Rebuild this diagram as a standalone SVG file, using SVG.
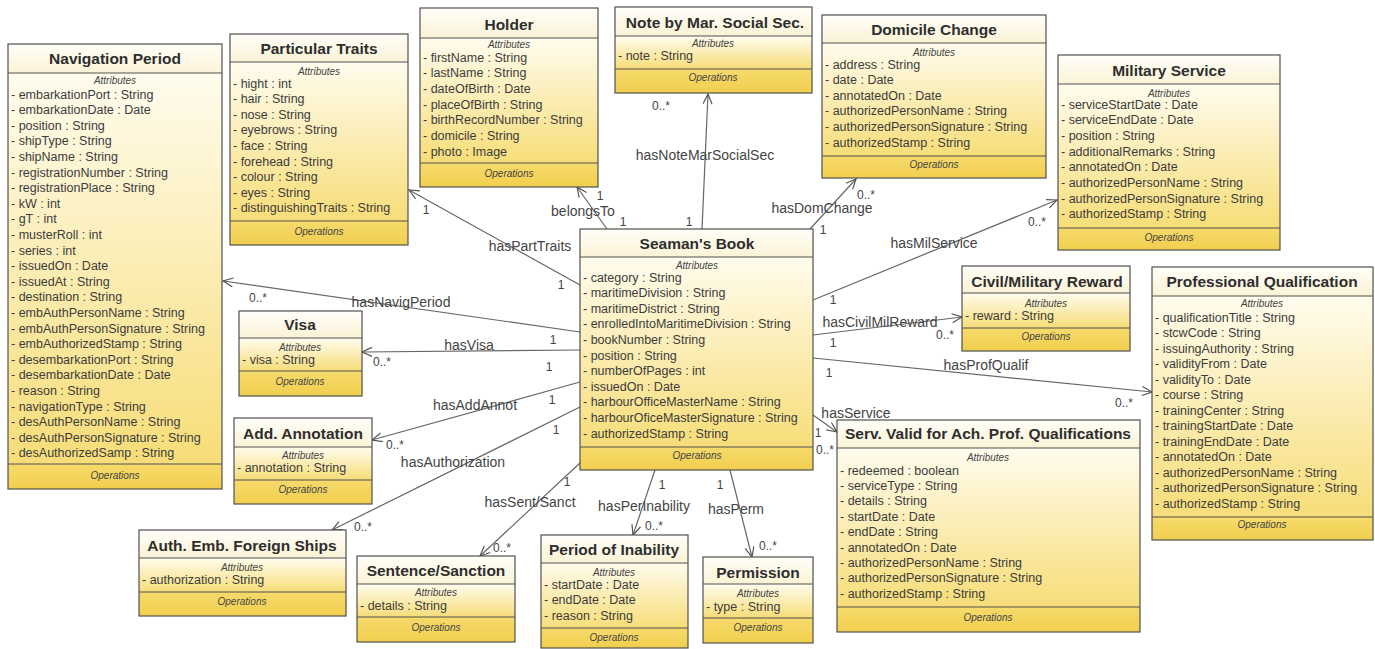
<svg xmlns="http://www.w3.org/2000/svg" width="1375" height="649" viewBox="0 0 1375 649">
<defs>
<linearGradient id="gT" x1="0" y1="0" x2="0" y2="1"><stop offset="0" stop-color="#fffef9"/><stop offset="1" stop-color="#fbf3d6"/></linearGradient>
<linearGradient id="gA" x1="0" y1="0" x2="0" y2="1"><stop offset="0" stop-color="#fffcee"/><stop offset="1" stop-color="#f7dd78"/></linearGradient>
<linearGradient id="gO" x1="0" y1="0" x2="0" y2="1"><stop offset="0" stop-color="#f6da6c"/><stop offset="1" stop-color="#f1cf4e"/></linearGradient>
<marker id="arr" markerUnits="userSpaceOnUse" markerWidth="14" markerHeight="12" refX="11" refY="5" orient="auto"><path d="M1,0.5 L11,5 L1,9.5" fill="none" stroke="#555" stroke-width="1.2"/></marker>
</defs>
<style>
.fr{fill:none;stroke:#505050;stroke-width:1.2}
.dv{stroke:#505050;stroke-width:1}
.t{font-family:"Liberation Sans",Arial,sans-serif;font-weight:bold;font-size:15.5px;fill:#2e2e2e;text-anchor:middle}
.a{font-family:"Liberation Sans",Arial,sans-serif;font-size:12.5px;fill:#3c3c3c}
.h{font-family:"Liberation Sans",Arial,sans-serif;font-style:italic;font-size:10px;fill:#444;text-anchor:middle}
.c{stroke:#666;stroke-width:1.2;fill:none;marker-end:url(#arr)}
.l{font-family:"Liberation Sans",Arial,sans-serif;font-size:14px;fill:#444;text-anchor:middle}
.m{font-family:"Liberation Sans",Arial,sans-serif;font-size:12px;fill:#444;text-anchor:middle}
</style>
<rect width="1375" height="649" fill="#fff"/>

<g id="connectors">
<line class="c" x1="580" y1="285" x2="409" y2="190"/>
<line class="c" x1="607" y1="229" x2="577" y2="187"/>
<line class="c" x1="702" y1="229" x2="708" y2="94"/>
<line class="c" x1="810" y1="229" x2="856" y2="179"/>
<line class="c" x1="813" y1="300" x2="1057" y2="200"/>
<line class="c" x1="813" y1="335" x2="962" y2="317"/>
<line class="c" x1="813" y1="358" x2="1152" y2="392"/>
<line class="c" x1="813" y1="415" x2="837" y2="432"/>
<line class="c" x1="580" y1="332" x2="223" y2="281"/>
<line class="c" x1="580" y1="350" x2="362" y2="352"/>
<line class="c" x1="580" y1="382" x2="372" y2="440"/>
<line class="c" x1="580" y1="407" x2="332" y2="530"/>
<line class="c" x1="580" y1="463" x2="480" y2="556"/>
<line class="c" x1="655" y1="470" x2="633" y2="535"/>
<line class="c" x1="730" y1="470" x2="752" y2="557"/>
<text class="l" x="530" y="251">hasPartTraits</text>
<text class="l" x="583" y="216">belongsTo</text>
<text class="l" x="705" y="160">hasNoteMarSocialSec</text>
<text class="l" x="822" y="213">hasDomChange</text>
<text class="l" x="934" y="248">hasMilService</text>
<text class="l" x="880" y="327">hasCivilMilReward</text>
<text class="l" x="986" y="370">hasProfQualif</text>
<text class="l" x="856" y="418">hasService</text>
<text class="l" x="401" y="307">hasNavigPeriod</text>
<text class="l" x="469" y="350">hasVisa</text>
<text class="l" x="475" y="410">hasAddAnnot</text>
<text class="l" x="453" y="467">hasAuthorization</text>
<text class="l" x="530" y="507">hasSent/Sanct</text>
<text class="l" x="644" y="511">hasPerInability</text>
<text class="l" x="736" y="514">hasPerm</text>
<text class="m" x="426" y="214">1</text>
<text class="m" x="561" y="289">1</text>
<text class="m" x="600" y="200">1</text>
<text class="m" x="623" y="226">1</text>
<text class="m" x="661" y="110">0..*</text>
<text class="m" x="689" y="226">1</text>
<text class="m" x="866" y="199">0..*</text>
<text class="m" x="823" y="234">1</text>
<text class="m" x="1037" y="226">0..*</text>
<text class="m" x="833" y="304">1</text>
<text class="m" x="945" y="339">0..*</text>
<text class="m" x="833" y="347">1</text>
<text class="m" x="1124" y="407">0..*</text>
<text class="m" x="829" y="377">1</text>
<text class="m" x="818" y="437">1</text>
<text class="m" x="825" y="454">0..*</text>
<text class="m" x="258" y="302">0..*</text>
<text class="m" x="553" y="344">1</text>
<text class="m" x="549" y="371">1</text>
<text class="m" x="382" y="366">0..*</text>
<text class="m" x="552" y="404">1</text>
<text class="m" x="395" y="449">0..*</text>
<text class="m" x="556" y="434">1</text>
<text class="m" x="363" y="531">0..*</text>
<text class="m" x="567" y="486">1</text>
<text class="m" x="502" y="552">0..*</text>
<text class="m" x="662" y="489">1</text>
<text class="m" x="654" y="530">0..*</text>
<text class="m" x="720" y="489">1</text>
<text class="m" x="768" y="550">0..*</text>
</g>

<g id="navigation-period">
<rect x="8" y="44" width="214" height="29" fill="url(#gT)"/>
<rect x="8" y="73" width="214" height="391" fill="url(#gA)"/>
<rect x="8" y="464" width="214" height="25" fill="url(#gO)"/>
<rect class="fr" x="8" y="44" width="214" height="445"/>
<line class="dv" x1="8" y1="73" x2="222" y2="73"/><line class="dv" x1="8" y1="464" x2="222" y2="464"/>
<text class="t" x="115" y="64">Navigation Period</text>
<text class="h" x="115" y="84">Attributes</text>
<text class="a" y="98.5"><tspan x="11">- embarkationPort : String</tspan><tspan x="11" dy="15.6">- embarkationDate : Date</tspan><tspan x="11" dy="15.6">- position : String</tspan><tspan x="11" dy="15.6">- shipType : String</tspan><tspan x="11" dy="15.6">- shipName : String</tspan><tspan x="11" dy="15.6">- registrationNumber : String</tspan><tspan x="11" dy="15.6">- registrationPlace : String</tspan><tspan x="11" dy="15.6">- kW : int</tspan><tspan x="11" dy="15.6">- gT : int</tspan><tspan x="11" dy="15.6">- musterRoll : int</tspan><tspan x="11" dy="15.6">- series : int</tspan><tspan x="11" dy="15.6">- issuedOn : Date</tspan><tspan x="11" dy="15.6">- issuedAt : String</tspan><tspan x="11" dy="15.6">- destination : String</tspan><tspan x="11" dy="15.6">- embAuthPersonName : String</tspan><tspan x="11" dy="15.6">- embAuthPersonSignature : String</tspan><tspan x="11" dy="15.6">- embAuthorizedStamp : String</tspan><tspan x="11" dy="15.6">- desembarkationPort : String</tspan><tspan x="11" dy="15.6">- desembarkationDate : Date</tspan><tspan x="11" dy="15.6">- reason : String</tspan><tspan x="11" dy="15.6">- navigationType : String</tspan><tspan x="11" dy="15.6">- desAuthPersonName : String</tspan><tspan x="11" dy="15.6">- desAuthPersonSignature : String</tspan><tspan x="11" dy="15.6">- desAuthorizedSamp : String</tspan></text>
<text class="h" x="115" y="479">Operations</text>
</g>

<g id="particular-traits">
<rect x="230" y="34" width="178" height="28" fill="url(#gT)"/>
<rect x="230" y="62" width="178" height="159" fill="url(#gA)"/>
<rect x="230" y="221" width="178" height="24" fill="url(#gO)"/>
<rect class="fr" x="230" y="34" width="178" height="211"/>
<line class="dv" x1="230" y1="62" x2="408" y2="62"/><line class="dv" x1="230" y1="221" x2="408" y2="221"/>
<text class="t" x="319" y="54">Particular Traits</text>
<text class="h" x="319" y="74.5">Attributes</text>
<text class="a" y="87.5"><tspan x="233">- hight : int</tspan><tspan x="233" dy="15.6">- hair : String</tspan><tspan x="233" dy="15.6">- nose : String</tspan><tspan x="233" dy="15.6">- eyebrows : String</tspan><tspan x="233" dy="15.6">- face : String</tspan><tspan x="233" dy="15.6">- forehead : String</tspan><tspan x="233" dy="15.6">- colour : String</tspan><tspan x="233" dy="15.6">- eyes : String</tspan><tspan x="233" dy="15.6">- distinguishingTraits : String</tspan></text>
<text class="h" x="319" y="235">Operations</text>
</g>

<g id="holder">
<rect x="420" y="8" width="178" height="30" fill="url(#gT)"/>
<rect x="420" y="38" width="178" height="125" fill="url(#gA)"/>
<rect x="420" y="163" width="178" height="24" fill="url(#gO)"/>
<rect class="fr" x="420" y="8" width="178" height="179"/>
<line class="dv" x1="420" y1="38" x2="598" y2="38"/><line class="dv" x1="420" y1="163" x2="598" y2="163"/>
<text class="t" x="509" y="30">Holder</text>
<text class="h" x="509" y="47.5">Attributes</text>
<text class="a" y="61.5"><tspan x="423">- firstName : String</tspan><tspan x="423" dy="15.67">- lastName : String</tspan><tspan x="423" dy="15.67">- dateOfBirth : Date</tspan><tspan x="423" dy="15.67">- placeOfBirth : String</tspan><tspan x="423" dy="15.67">- birthRecordNumber : String</tspan><tspan x="423" dy="15.67">- domicile : String</tspan><tspan x="423" dy="15.67">- photo : Image</tspan></text>
<text class="h" x="509" y="177">Operations</text>
</g>

<g id="note-mar-social-sec">
<rect x="615" y="7" width="197" height="29" fill="url(#gT)"/>
<rect x="615" y="36" width="197" height="33" fill="url(#gA)"/>
<rect x="615" y="69" width="197" height="24" fill="url(#gO)"/>
<rect class="fr" x="615" y="7" width="197" height="86"/>
<line class="dv" x1="615" y1="36" x2="812" y2="36"/><line class="dv" x1="615" y1="69" x2="812" y2="69"/>
<text class="t" x="715" y="27.5">Note by Mar. Social Sec.</text>
<text class="h" x="713" y="46.5">Attributes</text>
<text class="a" x="618" y="59.5">- note : String</text>
<text class="h" x="713" y="81">Operations</text>
</g>

<g id="domicile-change">
<rect x="822" y="15" width="224" height="28" fill="url(#gT)"/>
<rect x="822" y="43" width="224" height="113" fill="url(#gA)"/>
<rect x="822" y="156" width="224" height="22" fill="url(#gO)"/>
<rect class="fr" x="822" y="15" width="224" height="163"/>
<line class="dv" x1="822" y1="43" x2="1046" y2="43"/><line class="dv" x1="822" y1="156" x2="1046" y2="156"/>
<text class="t" x="934" y="35">Domicile Change</text>
<text class="h" x="934" y="55.5">Attributes</text>
<text class="a" y="68.5"><tspan x="825">- address : String</tspan><tspan x="825" dy="15.6">- date : Date</tspan><tspan x="825" dy="15.6">- annotatedOn : Date</tspan><tspan x="825" dy="15.6">- authorizedPersonName : String</tspan><tspan x="825" dy="15.6">- authorizedPersonSignature : String</tspan><tspan x="825" dy="15.6">- authorizedStamp : String</tspan></text>
<text class="h" x="934" y="168">Operations</text>
</g>

<g id="military-service">
<rect x="1058" y="55" width="222" height="29" fill="url(#gT)"/>
<rect x="1058" y="84" width="222" height="144" fill="url(#gA)"/>
<rect x="1058" y="228" width="222" height="22" fill="url(#gO)"/>
<rect class="fr" x="1058" y="55" width="222" height="195"/>
<line class="dv" x1="1058" y1="84" x2="1280" y2="84"/><line class="dv" x1="1058" y1="228" x2="1280" y2="228"/>
<text class="t" x="1169" y="76">Military Service</text>
<text class="h" x="1169" y="96.5">Attributes</text>
<text class="a" y="108.5"><tspan x="1061">- serviceStartDate : Date</tspan><tspan x="1061" dy="15.7">- serviceEndDate : Date</tspan><tspan x="1061" dy="15.7">- position : String</tspan><tspan x="1061" dy="15.7">- additionalRemarks : String</tspan><tspan x="1061" dy="15.7">- annotatedOn : Date</tspan><tspan x="1061" dy="15.7">- authorizedPersonName : String</tspan><tspan x="1061" dy="15.7">- authorizedPersonSignature : String</tspan><tspan x="1061" dy="15.7">- authorizedStamp : String</tspan></text>
<text class="h" x="1169" y="241">Operations</text>
</g>

<g id="seamans-book">
<rect x="580" y="229" width="233" height="28" fill="url(#gT)"/>
<rect x="580" y="257" width="233" height="190" fill="url(#gA)"/>
<rect x="580" y="447" width="233" height="23" fill="url(#gO)"/>
<rect class="fr" x="580" y="229" width="233" height="241"/>
<line class="dv" x1="580" y1="257" x2="813" y2="257"/><line class="dv" x1="580" y1="447" x2="813" y2="447"/>
<text class="t" x="697" y="249">Seaman's Book</text>
<text class="h" x="697" y="268.5">Attributes</text>
<text class="a" y="281.5"><tspan x="583">- category : String</tspan><tspan x="583" dy="15.6">- maritimeDivision : String</tspan><tspan x="583" dy="15.6">- maritimeDistrict : String</tspan><tspan x="583" dy="15.6">- enrolledIntoMaritimeDivision : String</tspan><tspan x="583" dy="15.6">- bookNumber : String</tspan><tspan x="583" dy="15.6">- position : String</tspan><tspan x="583" dy="15.6">- numberOfPages : int</tspan><tspan x="583" dy="15.6">- issuedOn : Date</tspan><tspan x="583" dy="15.6">- harbourOfficeMasterName : String</tspan><tspan x="583" dy="15.6">- harbourOficeMasterSignature : String</tspan><tspan x="583" dy="15.6">- authorizedStamp : String</tspan></text>
<text class="h" x="697" y="459">Operations</text>
</g>

<g id="civil-military-reward">
<rect x="962" y="266" width="168" height="27" fill="url(#gT)"/>
<rect x="962" y="293" width="168" height="35" fill="url(#gA)"/>
<rect x="962" y="328" width="168" height="23" fill="url(#gO)"/>
<rect class="fr" x="962" y="266" width="168" height="85"/>
<line class="dv" x1="962" y1="293" x2="1130" y2="293"/><line class="dv" x1="962" y1="328" x2="1130" y2="328"/>
<text class="t" x="1047" y="286.5">Civil/Military Reward</text>
<text class="h" x="1046" y="306.5">Attributes</text>
<text class="a" x="965" y="319.5">- reward : String</text>
<text class="h" x="1046" y="340">Operations</text>
</g>

<g id="professional-qualification">
<rect x="1152" y="267" width="221" height="29" fill="url(#gT)"/>
<rect x="1152" y="296" width="221" height="221" fill="url(#gA)"/>
<rect x="1152" y="517" width="221" height="23" fill="url(#gO)"/>
<rect class="fr" x="1152" y="267" width="221" height="273"/>
<line class="dv" x1="1152" y1="296" x2="1373" y2="296"/><line class="dv" x1="1152" y1="517" x2="1373" y2="517"/>
<text class="t" x="1262" y="287">Professional Qualification</text>
<text class="h" x="1262" y="306.5">Attributes</text>
<text class="a" y="321.5"><tspan x="1155">- qualificationTitle : String</tspan><tspan x="1155" dy="15.5">- stcwCode : String</tspan><tspan x="1155" dy="15.5">- issuingAuthority : String</tspan><tspan x="1155" dy="15.5">- validityFrom : Date</tspan><tspan x="1155" dy="15.5">- validityTo : Date</tspan><tspan x="1155" dy="15.5">- course : String</tspan><tspan x="1155" dy="15.5">- trainingCenter : String</tspan><tspan x="1155" dy="15.5">- trainingStartDate : Date</tspan><tspan x="1155" dy="15.5">- trainingEndDate : Date</tspan><tspan x="1155" dy="15.5">- annotatedOn : Date</tspan><tspan x="1155" dy="15.5">- authorizedPersonName : String</tspan><tspan x="1155" dy="15.5">- authorizedPersonSignature : String</tspan><tspan x="1155" dy="15.5">- authorizedStamp : String</tspan></text>
<text class="h" x="1262" y="528">Operations</text>
</g>

<g id="serv-valid-prof-qualifications">
<rect x="837" y="420" width="303" height="28" fill="url(#gT)"/>
<rect x="837" y="448" width="303" height="159" fill="url(#gA)"/>
<rect x="837" y="607" width="303" height="25" fill="url(#gO)"/>
<rect class="fr" x="837" y="420" width="303" height="212"/>
<line class="dv" x1="837" y1="448" x2="1140" y2="448"/><line class="dv" x1="837" y1="607" x2="1140" y2="607"/>
<text class="t" x="988" y="439">Serv. Valid for Ach. Prof. Qualifications</text>
<text class="h" x="988" y="460.5">Attributes</text>
<text class="a" y="474.5"><tspan x="840">- redeemed : boolean</tspan><tspan x="840" dy="15.4">- serviceType : String</tspan><tspan x="840" dy="15.4">- details : String</tspan><tspan x="840" dy="15.4">- startDate : Date</tspan><tspan x="840" dy="15.4">- endDate : String</tspan><tspan x="840" dy="15.4">- annotatedOn : Date</tspan><tspan x="840" dy="15.4">- authorizedPersonName : String</tspan><tspan x="840" dy="15.4">- authorizedPersonSignature : String</tspan><tspan x="840" dy="15.4">- authorizedStamp : String</tspan></text>
<text class="h" x="988" y="621">Operations</text>
</g>

<g id="visa">
<rect x="239" y="311" width="123" height="27" fill="url(#gT)"/>
<rect x="239" y="338" width="123" height="33" fill="url(#gA)"/>
<rect x="239" y="371" width="123" height="25" fill="url(#gO)"/>
<rect class="fr" x="239" y="311" width="123" height="85"/>
<line class="dv" x1="239" y1="338" x2="362" y2="338"/><line class="dv" x1="239" y1="371" x2="362" y2="371"/>
<text class="t" x="300" y="330">Visa</text>
<text class="h" x="300" y="350.5">Attributes</text>
<text class="a" x="242" y="363.5">- visa : String</text>
<text class="h" x="300" y="385">Operations</text>
</g>

<g id="add-annotation">
<rect x="234" y="418" width="138" height="29" fill="url(#gT)"/>
<rect x="234" y="447" width="138" height="33" fill="url(#gA)"/>
<rect x="234" y="480" width="138" height="24" fill="url(#gO)"/>
<rect class="fr" x="234" y="418" width="138" height="86"/>
<line class="dv" x1="234" y1="447" x2="372" y2="447"/><line class="dv" x1="234" y1="480" x2="372" y2="480"/>
<text class="t" x="303" y="439">Add. Annotation</text>
<text class="h" x="303" y="458.5">Attributes</text>
<text class="a" x="237" y="471.5">- annotation : String</text>
<text class="h" x="303" y="493">Operations</text>
</g>

<g id="auth-emb-foreign-ships">
<rect x="139" y="530" width="207" height="28" fill="url(#gT)"/>
<rect x="139" y="558" width="207" height="34" fill="url(#gA)"/>
<rect x="139" y="592" width="207" height="24" fill="url(#gO)"/>
<rect class="fr" x="139" y="530" width="207" height="86"/>
<line class="dv" x1="139" y1="558" x2="346" y2="558"/><line class="dv" x1="139" y1="592" x2="346" y2="592"/>
<text class="t" x="242" y="551">Auth. Emb. Foreign Ships</text>
<text class="h" x="242" y="570.5">Attributes</text>
<text class="a" x="142" y="583.5">- authorization : String</text>
<text class="h" x="242" y="605">Operations</text>
</g>

<g id="sentence-sanction">
<rect x="357" y="556" width="158" height="28" fill="url(#gT)"/>
<rect x="357" y="584" width="158" height="33" fill="url(#gA)"/>
<rect x="357" y="617" width="158" height="25" fill="url(#gO)"/>
<rect class="fr" x="357" y="556" width="158" height="86"/>
<line class="dv" x1="357" y1="584" x2="515" y2="584"/><line class="dv" x1="357" y1="617" x2="515" y2="617"/>
<text class="t" x="436" y="576">Sentence/Sanction</text>
<text class="h" x="436" y="595.5">Attributes</text>
<text class="a" x="360" y="609.5">- details : String</text>
<text class="h" x="436" y="631">Operations</text>
</g>

<g id="period-of-inability">
<rect x="541" y="535" width="147" height="28" fill="url(#gT)"/>
<rect x="541" y="563" width="147" height="65" fill="url(#gA)"/>
<rect x="541" y="628" width="147" height="20" fill="url(#gO)"/>
<rect class="fr" x="541" y="535" width="147" height="113"/>
<line class="dv" x1="541" y1="563" x2="688" y2="563"/><line class="dv" x1="541" y1="628" x2="688" y2="628"/>
<text class="t" x="614" y="555">Period of Inability</text>
<text class="h" x="614" y="575.5">Attributes</text>
<text class="a" y="588.5"><tspan x="544">- startDate : Date</tspan><tspan x="544" dy="15.5">- endDate : Date</tspan><tspan x="544" dy="15.5">- reason : String</tspan></text>
<text class="h" x="614" y="641">Operations</text>
</g>

<g id="permission">
<rect x="703" y="557" width="110" height="27" fill="url(#gT)"/>
<rect x="703" y="584" width="110" height="34" fill="url(#gA)"/>
<rect x="703" y="618" width="110" height="25" fill="url(#gO)"/>
<rect class="fr" x="703" y="557" width="110" height="86"/>
<line class="dv" x1="703" y1="584" x2="813" y2="584"/><line class="dv" x1="703" y1="618" x2="813" y2="618"/>
<text class="t" x="758" y="578">Permission</text>
<text class="h" x="758" y="596.5">Attributes</text>
<text class="a" x="706" y="610.5">- type : String</text>
<text class="h" x="758" y="631">Operations</text>
</g>
</svg>
